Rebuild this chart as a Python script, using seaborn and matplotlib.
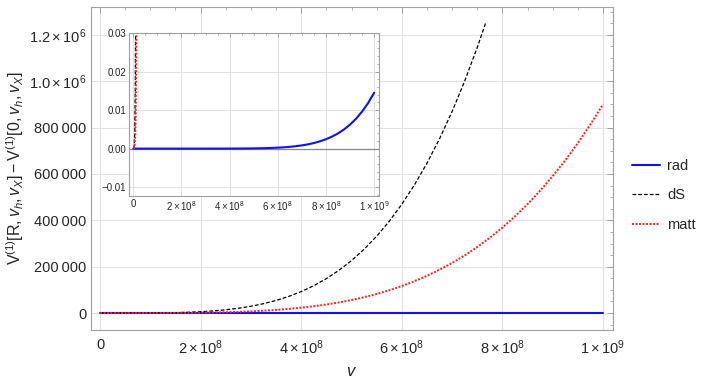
import numpy as np
import pandas as pd
import matplotlib
matplotlib.use("Agg")
import matplotlib.pyplot as plt
import seaborn as sns
from matplotlib.ticker import MultipleLocator

# ---- data (v in units of 1e8) ----
v_rad = [0, 1, 2, 3, 4, 4.5, 5, 5.5, 6, 6.25, 6.5, 6.75, 7, 7.25, 7.5, 7.75,
         8, 8.25, 8.5, 8.75, 9, 9.25, 9.5, 9.75, 10]
rad = [0, 0, 0, 0, 9.5e-6, 2.4e-5, 5.7e-5, 1.21e-4, 2.44e-4, 3.38e-4, 4.62e-4,
       6.25e-4, 8.36e-4, 1.107e-3, 1.45e-3, 1.887e-3, 2.43e-3, 3.112e-3,
       3.95e-3, 4.982e-3, 6.24e-3, 7.771e-3, 9.62e-3, 0.011841, 0.0145]

v_ds = [0, 0.02, 0.04, 0.06, 0.08, 0.1, 0.15, 0.2, 0.5, 0.75, 1.0, 1.25, 1.5,
        1.75, 2.0, 2.25, 2.5, 2.75, 3.0, 3.25, 3.5, 3.75, 4.0, 4.25, 4.5,
        4.75, 5.0, 5.25, 5.5, 5.75, 6.0, 6.25, 6.5, 6.75, 7.0, 7.25, 7.5, 7.67]
ds = [0, 5.79e-5, 9.27e-4, 4.69e-3, 0.01483, 0.0362, 0.1833, 0.579, 22.6,
      114.5, 362, 884, 1833, 3395, 5792, 9278, 14141, 20703, 29322, 40388,
      54323, 71586, 92672, 118103, 148443, 184283, 226250, 275008, 331253,
      395702, 469152, 552376, 646193, 751476, 869162, 1000134, 1145391,
      1252900]

v_matt = [0, 0.02, 0.04, 0.06, 0.08, 0.1, 0.15, 0.2, 0.5, 0.75, 1.0, 1.25,
          1.5, 1.75, 2.0, 2.25, 2.5, 2.75, 3.0, 3.25, 3.5, 3.75, 4.0, 4.25,
          4.5, 4.75, 5.0, 5.25, 5.5, 5.75, 6.0, 6.25, 6.5, 6.75, 7.0, 7.25,
          7.5, 7.75, 8.0, 8.25, 8.5, 8.75, 9.0, 9.25, 9.5, 9.75, 10.0]
matt = [0, 1.44e-5, 2.30e-4, 1.17e-3, 3.69e-3, 9.0e-3, 0.0456, 0.144, 5.63,
        28.5, 90, 220, 456, 844, 1440, 2307, 3516, 5147, 7290, 10041, 13506,
        17798, 23040, 29363, 36906, 45816, 56250, 68372, 82356, 98379, 116640,
        137331, 160655, 186831, 216090, 248652, 284766, 324675, 368640,
        416925, 469706, 527562, 590490, 658881, 733056, 813321, 900000]

x_ticks = [0, 2e8, 4e8, 6e8, 8e8, 1e9]
x_labels = ["0", r"$2\times10^{8}$", r"$4\times10^{8}$", r"$6\times10^{8}$",
            r"$8\times10^{8}$", r"$1\times10^{9}$"]
y_ticks = [0, 2e5, 4e5, 6e5, 8e5, 1e6, 1.2e6]
y_labels = ["0", "200\u2009000", "400\u2009000", "600\u2009000", "800\u2009000",
            r"$1.0\times10^{6}$", r"$1.2\times10^{6}$"]
inset_y_ticks = [-0.01, 0.0, 0.01, 0.02, 0.03]
inset_y_labels = ["\u22120.01", "0.00", "0.01", "0.02", "0.03"]

# ---- style ----
sns.set_style("white")
plt.rcParams['font.family'] = ['Liberation Sans', 'DejaVu Sans']
plt.rcParams['mathtext.fontset'] = 'custom'
plt.rcParams['mathtext.rm'] = 'Liberation Sans'
plt.rcParams['mathtext.it'] = 'Liberation Sans:italic'
plt.rcParams['mathtext.bf'] = 'Liberation Sans:bold'

FRAME = "#a0a0a0"
GRID = "#e2e2e2"

series = [("rad", v_rad, rad, "#1010ff", "-", 1.5),
          ("dS", v_ds, ds, "black", (0, (3, 1.6)), 0.9),
          ("matt", v_matt, matt, "#ff2020", (0, (1, 0.8)), 1.4)]


def style_frame(ax, labelsize, major_len, minor_len):
    for s in ax.spines.values():
        s.set_color(FRAME)
        s.set_linewidth(0.8)
    ax.tick_params(which="both", direction="in", color=FRAME,
                   top=True, right=True, labelsize=labelsize)
    ax.tick_params(which="major", length=major_len, width=0.7)
    ax.tick_params(which="minor", length=minor_len, width=0.6)
    ax.grid(True, which="major", color=GRID, linewidth=0.8)
    ax.set_axisbelow(True)


fig = plt.figure(figsize=(7.06, 3.89), dpi=100)
ax = fig.add_axes([0.1289, 0.1517, 0.7394, 0.8303])

for name, vx, vy, col, ls, lw in series:
    df = pd.DataFrame({"v": np.array(vx) * 1e8, "val": vy})
    sns.lineplot(data=df, x="v", y="val", ax=ax, color=col, linestyle=ls,
                 linewidth=lw, label=name, estimator=None, sort=False)

ax.set_xlim(-1.8e7, 1.02e9)
ax.set_ylim(-7.3e4, 1.32e6)
ax.set_xticks(x_ticks, x_labels)
ax.set_yticks(y_ticks, y_labels)
ax.xaxis.set_minor_locator(MultipleLocator(5e7))
ax.yaxis.set_minor_locator(MultipleLocator(5e4))
style_frame(ax, 10.5, 4, 2.2)
ax.tick_params(axis="x", pad=6)
ax.set_xlabel(r"$v$", fontsize=12, labelpad=5)
ax.set_ylabel(r"$\mathrm{V}^{(1)}[\mathrm{R},v_h,v_X]-\mathrm{V}^{(1)}[0,v_h,v_X]$",
              fontsize=11.5, labelpad=2)

handles, labels = ax.get_legend_handles_labels()
ax.get_legend().remove()
fig.legend(handles, labels, loc="upper left", bbox_to_anchor=(0.877, 0.625),
           frameon=False, fontsize=10.5, handlelength=1.9, labelspacing=1.05,
           handletextpad=0.5)

# ---- inset ----
ins = fig.add_axes([0.1827, 0.4961, 0.3541, 0.4191])
ins.set_facecolor("white")
ins.axhline(0, color="#888888", linewidth=0.9, zorder=1)
for name, vx, vy, col, ls, lw in series:
    df = pd.DataFrame({"v": np.array(vx) * 1e8, "val": vy})
    sns.lineplot(data=df, x="v", y="val", ax=ins, color=col, linestyle=ls,
                 linewidth=lw, estimator=None, sort=False, legend=False)
ins.set_xlim(-1.8e7, 1.02e9)
ins.set_ylim(-0.0123, 0.03)
ins.set_xticks(x_ticks, x_labels)
ins.set_yticks(inset_y_ticks, inset_y_labels)
ins.xaxis.set_minor_locator(MultipleLocator(5e7))
ins.yaxis.set_minor_locator(MultipleLocator(0.002))
style_frame(ins, 7, 3, 1.6)
ins.tick_params(pad=2)
ins.set_xlabel("")
ins.set_ylabel("")

fig.savefig("out.png", dpi=100)
